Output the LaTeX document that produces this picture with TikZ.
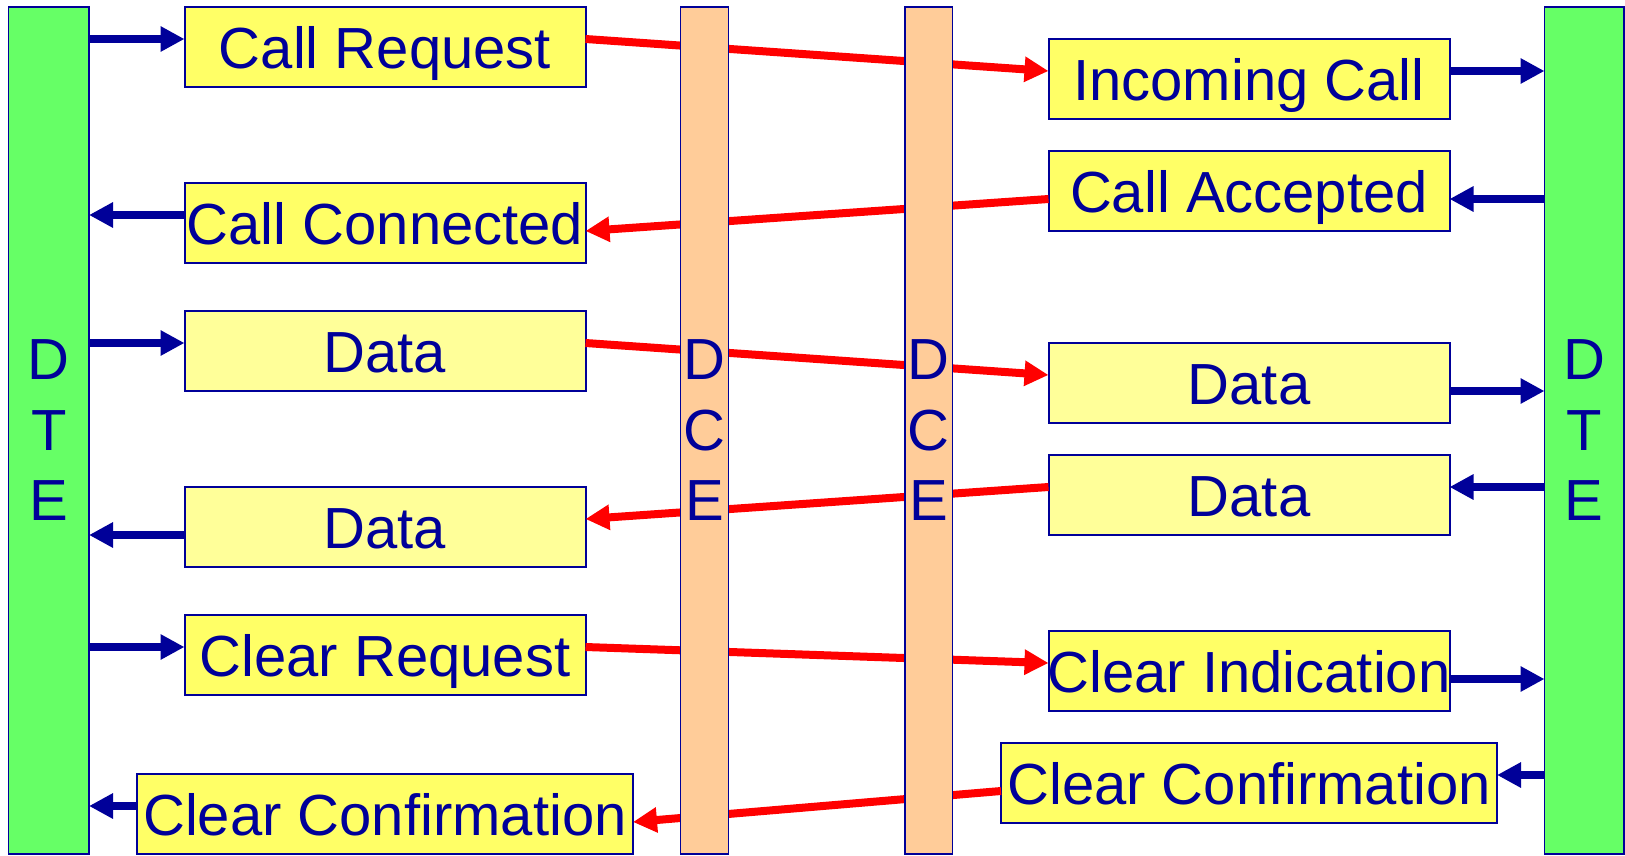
\documentclass[tikz,border=0pt]{standalone}
\usepackage{fontspec}
\setmainfont{Liberation Sans}
\usetikzlibrary{arrows.meta}
\definecolor{navy}{HTML}{000099}
\definecolor{dtegreen}{HTML}{66FF66}
\definecolor{dcepeach}{HTML}{FFCC99}
\definecolor{boxyellow}{HTML}{FFFF66}
\definecolor{datayellow}{HTML}{FFFF99}
\newcommand\bigtext{\fontsize{58}{70.5}\selectfont}
\begin{document}
\begin{tikzpicture}[x=1pt,y=-1pt,
  bar/.style={draw=navy,line width=1.5pt,inner sep=0pt,outer sep=0pt,minimum height=847pt},
  dtebar/.style={bar,fill=dtegreen},
  dcebar/.style={bar,fill=dcepeach},
  barletters/.style={inner sep=0pt,align=center,font=\bigtext,text=navy},
  msgbox/.style={draw=navy,line width=2pt,fill=boxyellow,inner sep=0pt,outer sep=0pt,
    minimum width=401pt,minimum height=80pt,font=\bigtext,text=navy,
    text height=43pt,text depth=0pt},
  databox/.style={msgbox,fill=datayellow},
  widebox/.style={msgbox,minimum width=496pt},
  bluearr/.style={draw=navy,line width=8pt,-{Triangle[length=24pt,width=24pt]}},
  redarr/.style={draw=red,line width=8pt,-{Triangle[length=24pt,width=24pt]}}
]
\useasboundingbox (0,0) rectangle (1625,855);

% DTE bars
\node[dtebar,minimum width=80.5pt] (dteL) at (48.75,430.5) {};
\node[dtebar,minimum width=79.5pt] (dteR) at (1584.25,430.5) {};

% left column boxes
\node[msgbox]  (cr)  at (385,47)  {Call Request};
\node[msgbox]  (cc)  at (385,223) {Call Connected};
\node[databox] (dl1) at (385,351) {Data};
\node[databox] (dl2) at (385,527) {Data};
\node[msgbox]  (clr) at (385,655) {Clear Request};
\node[widebox] (ccl) at (385,814) {Clear Confirmation};

% right column boxes
\node[msgbox]  (ic)  at (1249,79)  {Incoming Call};
\node[msgbox]  (ca)  at (1249,191) {Call Accepted};
\node[databox] (dr1) at (1249,383) {Data};
\node[databox] (dr2) at (1249,495) {Data};
\node[msgbox]  (ci)  at (1249,671) {\makebox[0pt]{Clear Indication}};
\node[widebox] (ccr) at (1249,783) {Clear Confirmation};

% connection points
\coordinate (crL)  at ([yshift=-32pt]cr.north west);
\coordinate (crR)  at ([yshift=-32pt]cr.north east);
\coordinate (ccL)  at ([yshift=-32pt]cc.north west);
\coordinate (ccR)  at ([yshift=32pt]cc.south east);
\coordinate (dl1L) at ([yshift=-32pt]dl1.north west);
\coordinate (dl1R) at ([yshift=-32pt]dl1.north east);
\coordinate (dl2L) at ([yshift=32pt]dl2.south west);
\coordinate (dl2R) at ([yshift=-32pt]dl2.north east);
\coordinate (clrL) at ([yshift=-32pt]clr.north west);
\coordinate (clrR) at ([yshift=-32pt]clr.north east);
\coordinate (cclL) at ([yshift=-32pt]ccl.north west);
\coordinate (cclR) at ([yshift=32pt]ccl.south east);

\coordinate (icL)  at ([yshift=-32pt]ic.north west);
\coordinate (icR)  at ([yshift=-32pt]ic.north east);
\coordinate (caL)  at ([yshift=32pt]ca.south west);
\coordinate (caR)  at ([yshift=32pt]ca.south east);
\coordinate (dr1L) at ([yshift=-32pt]dr1.north west);
\coordinate (dr1R) at ([yshift=32pt]dr1.south east);
\coordinate (dr2L) at ([yshift=-32pt]dr2.north west);
\coordinate (dr2R) at ([yshift=-32pt]dr2.north east);
\coordinate (ciL)  at ([yshift=-32pt]ci.north west);
\coordinate (ciR)  at ([yshift=32pt]ci.south east);
\coordinate (ccrL) at ([yshift=32pt]ccr.south west);
\coordinate (ccrR) at ([yshift=-32pt]ccr.north east);

% blue arrows, left DTE
\draw[bluearr] (dteL.east |- crL) -- (crL);
\draw[bluearr] (ccL) -- (dteL.east |- ccL);
\draw[bluearr] (dteL.east |- dl1L) -- (dl1L);
\draw[bluearr] (dl2L) -- (dteL.east |- dl2L);
\draw[bluearr] (dteL.east |- clrL) -- (clrL);
\draw[bluearr] (cclL) -- (dteL.east |- cclL);

% blue arrows, right DTE
\draw[bluearr] (icR) -- (dteR.west |- icR);
\draw[bluearr] (dteR.west |- caR) -- (caR);
\draw[bluearr] (dr1R) -- (dteR.west |- dr1R);
\draw[bluearr] (dteR.west |- dr2R) -- (dr2R);
\draw[bluearr] (ciR) -- (dteR.west |- ciR);
\draw[bluearr] (dteR.west |- ccrR) -- (ccrR);

% red arrows across the network
\draw[redarr] (crR) -- (icL);
\draw[redarr] (caL) -- (ccR);
\draw[redarr] (dl1R) -- (dr1L);
\draw[redarr] (dr2L) -- (dl2R);
\draw[redarr] (clrR) -- (ciL);
\draw[redarr] (ccrL) -- (cclR);

% DCE bars (over the red lines)
\node[dcebar,minimum width=48pt] (dce1) at (704.7,430.5) {};
\node[dcebar,minimum width=47.7pt] (dce2) at (928.85,430.5) {};

% bar letters
\node[barletters] (dteLt) at (dteL) {D\\T\\E};
\node[barletters] (dteRt) at (dteR) {D\\T\\E};
\node[barletters] (dce1t) at (dce1) {D\\C\\E};
\node[barletters] (dce2t) at (dce2) {D\\C\\E};
\end{tikzpicture}
\end{document}
